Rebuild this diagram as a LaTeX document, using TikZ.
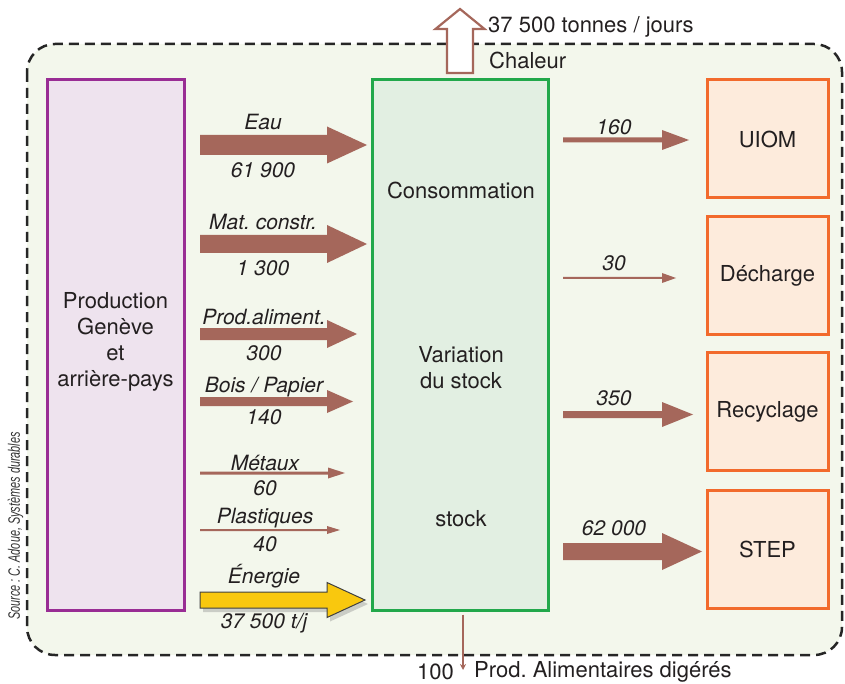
\documentclass[tikz,border=0pt]{standalone}
\usepackage{fontspec}
\setmainfont{TeX Gyre Heros}
\newfontfamily\srcfont[FakeStretch=0.66]{Liberation Sans}
\usetikzlibrary{calc,shadows,arrows.meta}
\frenchspacing

\definecolor{flowbrown}{HTML}{A5675B}
\definecolor{prodline}{HTML}{992D94}
\definecolor{prodfill}{HTML}{EEE3EE}
\definecolor{consline}{HTML}{22A84B}
\definecolor{consfill}{HTML}{E2EFE2}
\definecolor{outline}{HTML}{F26A2C}
\definecolor{outfill}{HTML}{FDEBDC}
\definecolor{framefill}{HTML}{F3F7EC}
\definecolor{inktext}{HTML}{231F20}
\definecolor{energyyellow}{HTML}{F9C80E}

% Horizontal block arrow between two named coordinates
% #1 style, #2 start, #3 tip, #4 shaft half-width, #5 head half-width, #6 head length
\newcommand\blockflow[6][]{%
  \path[#1] let \p1=(#2), \p2=(#3) in
    (\x1,{\y1+#4}) -- ({\x2-#6},{\y1+#4}) -- ({\x2-#6},{\y1+#5}) -- (\x2,\y1)
    -- ({\x2-#6},{\y1-#5}) -- ({\x2-#6},{\y1-#4}) -- (\x1,{\y1-#4}) -- cycle;}

\begin{document}
\begin{tikzpicture}[x=1pt,y=-1pt,
  every node/.style={text=inktext, inner sep=0pt},
  box/.style={draw, line width=3pt},
  boxtext/.style={font=\fontsize{22}{26}\selectfont, align=center},
  plaintext/.style={font=\fontsize{22}{26}\selectfont},
  flowlabel/.style={font=\fontsize{21}{24}\selectfont\itshape},
  flowfill/.style={fill=flowbrown},
  frame/.style={draw=black!85, line width=2.5pt, dash pattern=on 10pt off 6pt,
                rounded corners=28pt, fill=framefill}]
\useasboundingbox (0,0) rectangle (845,684);

% system boundary
\path[frame] (27,44) rectangle (842,655);

% heat leaving the system
\coordinate (heatA) at (460,73);
\coordinate (heatB) at (460,9);
\path[draw=flowbrown, line width=2.2pt, fill=white, line join=miter]
  let \p1=(heatA), \p2=(heatB) in
  ({\x1-13},\y1) -- ({\x1-13},{\y2-20}) -- ({\x1-24.5},{\y2-20}) -- (\x2,\y2)
  -- ({\x1+24.5},{\y2-20}) -- ({\x1+13},{\y2-20}) -- ({\x1+13},\y1) -- cycle;
\node[anchor=west, plaintext] (heatval) at (488,27) {37 500 tonnes / jours};
\node[anchor=west, plaintext] (heatlbl) at (489,60) {Chaleur};

% boxes
\node[box, draw=prodline, fill=prodfill, minimum width=137pt, minimum height=530pt] (prod) at (115.5,345) {};
\node[box, draw=consline, fill=consfill, minimum width=176pt, minimum height=530pt] (cons) at (460,345) {};
\node[box, draw=outline, fill=outfill, minimum width=121pt, minimum height=118pt] (uiom) at (767.5,139) {};
\node[box, draw=outline, fill=outfill, minimum width=121pt, minimum height=118pt] (dech) at (767.5,275.5) {};
\node[box, draw=outline, fill=outfill, minimum width=121pt, minimum height=118pt] (recy) at (767.5,411.5) {};
\node[box, draw=outline, fill=outfill, minimum width=121pt, minimum height=118pt] (step) at (767.5,549) {};

% box texts
\node[boxtext] (prodtxt) at (115.5,342) {Production\\Genève\\et\\arrière-pays};
\node[boxtext] (constxt) at (461,190) {Consommation};
\node[boxtext] (vartxt) at (461,368) {Variation\\du stock};
\node[boxtext] (stocktxt) at (461,519) {stock};
\node[boxtext] (uiomtxt) at (uiom) {UIOM};
\node[boxtext] (dechtxt) at (dech) {Décharge};
\node[boxtext] (recytxt) at (recy) {Recyclage};
\node[boxtext] (steptxt) at (step) {STEP};

% inflows
\coordinate (eauA) at (200,145);   \coordinate (eauB) at (367,145);
\coordinate (matA) at (200,244);   \coordinate (matB) at (367,244);
\coordinate (alimA) at (200,334);  \coordinate (alimB) at (357,334);
\coordinate (boisA) at (200,401.5);\coordinate (boisB) at (353,401.5);
\coordinate (metA) at (200,473);   \coordinate (metB) at (345,473);
\coordinate (plaA) at (200,530);   \coordinate (plaB) at (340,530);
\coordinate (engA) at (200,600);   \coordinate (engB) at (365,600);

\blockflow[flowfill]{eauA}{eauB}{10}{18.5}{40}
\blockflow[flowfill]{matA}{matB}{9}{19}{40}
\blockflow[flowfill]{alimA}{alimB}{6}{14}{30}
\blockflow[flowfill]{boisA}{boisB}{4.5}{11.5}{26}
\blockflow[flowfill]{metA}{metB}{1.5}{5.5}{17}
\blockflow[flowfill]{plaA}{plaB}{1}{4}{13}
\blockflow[fill=energyyellow, draw=black!75, line width=1pt,
  drop shadow={shadow xshift=3pt, shadow yshift=-4pt, opacity=0.35}]{engA}{engB}{8}{17.5}{38}

\node[flowlabel] (eaul) at (263,122) {Eau};
\node[flowlabel] (eauv) at (263,170) {61 900};
\node[flowlabel] (matl) at (263,222) {Mat. constr.};
\node[flowlabel] (matv) at (263,268) {1 300};
\node[flowlabel] (aliml) at (264,317) {Prod.aliment.};
\node[flowlabel] (alimv) at (264,353) {300};
\node[flowlabel] (boisl) at (264,387) {Bois / Papier};
\node[flowlabel] (boisv) at (264,417) {140};
\node[flowlabel] (metl) at (265,463) {Métaux};
\node[flowlabel] (metv) at (265,488) {60};
\node[flowlabel] (plal) at (265,518) {Plastiques};
\node[flowlabel] (plav) at (265,544) {40};
\node[flowlabel] (engl) at (264,576) {Énergie};
\node[flowlabel] (engv) at (264,623) {37 500 t/j};

% outflows
\coordinate (o1A) at (563,140);   \coordinate (o1B) at (689,140);
\coordinate (o2A) at (563,278);   \coordinate (o2B) at (676,278);
\coordinate (o3A) at (563,414.5); \coordinate (o3B) at (693,414.5);
\coordinate (o4A) at (563,551.5); \coordinate (o4B) at (702,551.5);

\blockflow[flowfill]{o1A}{o1B}{2.5}{10}{27}
\blockflow[flowfill]{o2A}{o2B}{1}{5}{14}
\blockflow[flowfill]{o3A}{o3B}{3.5}{12.5}{31}
\blockflow[flowfill]{o4A}{o4B}{8.5}{18.5}{40}

\node[flowlabel] (o1l) at (614,127) {160};
\node[flowlabel] (o2l) at (614,263) {30};
\node[flowlabel] (o3l) at (614,398) {350};
\node[flowlabel] (o4l) at (614,528) {62 000};

% digested food leaving the system
\coordinate (digB) at (463,670);
\draw[flowbrown, line width=1.5pt, -{Stealth[length=6pt, width=6pt]}] (cons.south -| digB) ++(0,3) -- (digB);
\node[anchor=east, plaintext] (digv) at (454,672) {100};
\node[anchor=west, plaintext] (digl) at (474,672) {Prod. Alimentaires digérés};

% source credit
\node[rotate=90, font=\srcfont\itshape\fontsize{16.5}{18}\selectfont, text=black!80] (src) at (15.5,526) {Source : C. Adoue, Systèmes durables};
\end{tikzpicture}
\end{document}
